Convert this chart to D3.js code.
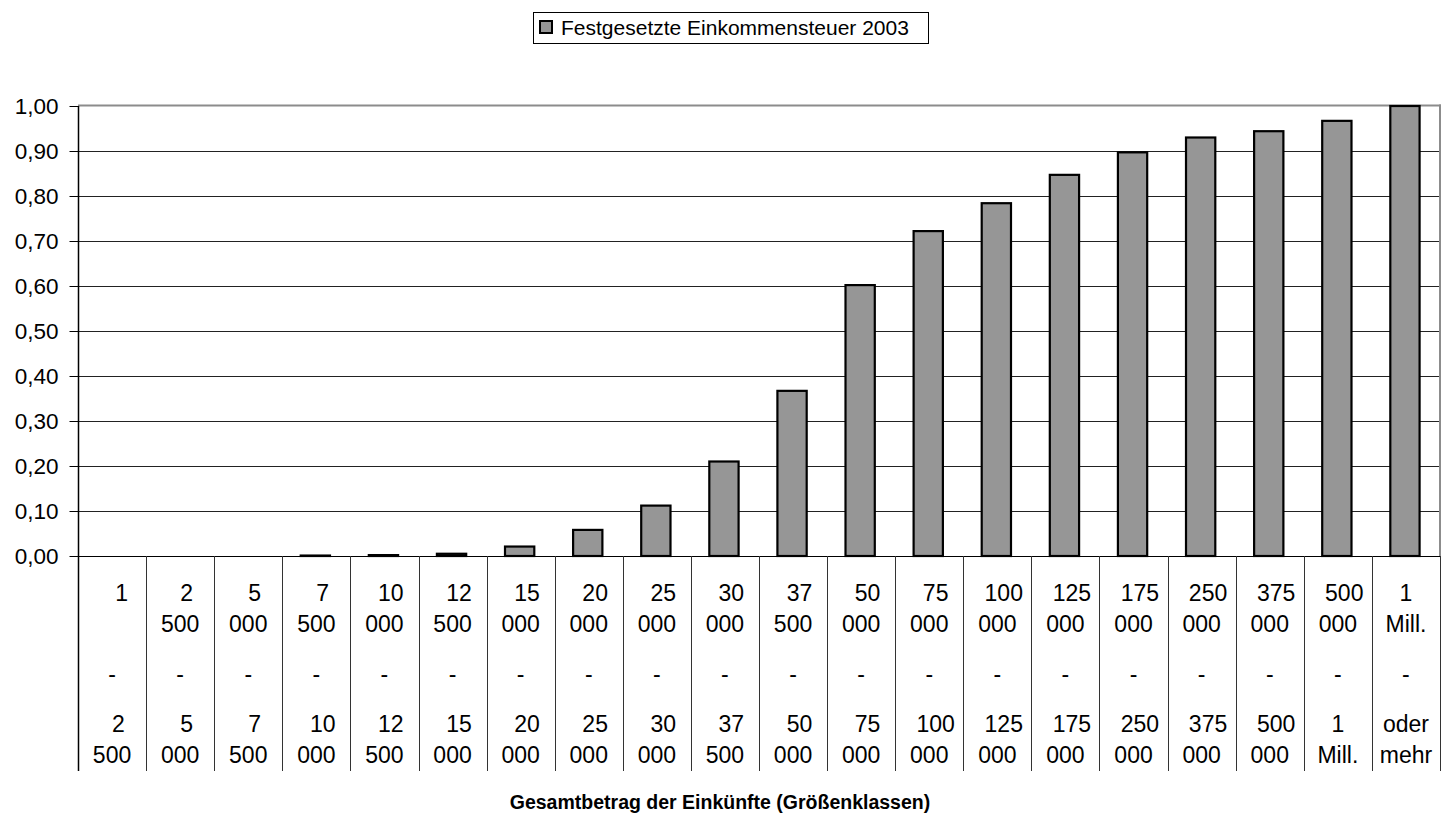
<!DOCTYPE html>
<html>
<head>
<meta charset="utf-8">
<script src="https://cdn.jsdelivr.net/npm/d3@7"></script>
<style>
  html, body { margin: 0; padding: 0; background: #fff; }
  svg { display: block; font-family: Arial, "Liberation Sans", sans-serif; }
  .cat text { white-space: pre; }
</style>
</head>
<body>
<svg id="chart" width="1450" height="817"></svg>
<script>
// ---- data ----
const seriesName = "Festgesetzte Einkommensteuer 2003";
const xTitle = "Gesamtbetrag der Einkünfte (Größenklassen)";
const classFrom = ["1", "2 500", "5 000", "7 500", "10 000", "12 500", "15 000", "20 000", "25 000", "30 000",
                   "37 500", "50 000", "75 000", "100 000", "125 000", "175 000", "250 000", "375 000", "500 000", "1 Mill."];
const classTo = ["2 500", "5 000", "7 500", "10 000", "12 500", "15 000", "20 000", "25 000", "30 000", "37 500",
                 "50 000", "75 000", "100 000", "125 000", "175 000", "250 000", "375 000", "500 000", "1 Mill.", "oder mehr"];
const values = [0, 0, 0, 0.001, 0.002, 0.005, 0.021, 0.058, 0.112, 0.210,
                0.367, 0.602, 0.722, 0.784, 0.847, 0.897, 0.930, 0.944, 0.967, 1.000];
const yTicks = [0, 0.1, 0.2, 0.3, 0.4, 0.5, 0.6, 0.7, 0.8, 0.9, 1.0];

// ---- layout ----
const svg = d3.select("#chart");
const pLeft = 78, pRight = 1440, pTop = 106, pBase = 556, catBottom = 771;
const catFont = 23, yFont = 22.5, legendFont = 21;

const x = d3.scaleBand().domain(d3.range(values.length)).range([pLeft, pRight]).paddingInner(0).paddingOuter(0);
const y = d3.scaleLinear().domain([0, 1]).range([pBase, pTop]);
const de = d3.formatLocale({decimal: ",", thousands: ".", grouping: [3], currency: ["", "€"]});
const fmt = de.format(".2f");

// gridlines
svg.append("g").selectAll("line").data(yTicks.filter(t => t > 0 && t < 1)).join("line")
  .attr("x1", pLeft).attr("x2", pRight)
  .attr("y1", d => Math.round(y(d)) + 0.5).attr("y2", d => Math.round(y(d)) + 0.5)
  .attr("stroke", "#222").attr("stroke-width", 1);

// plot border (top/right gray)
svg.append("line").attr("x1", pLeft).attr("x2", pRight + 1).attr("y1", pTop - 0.5).attr("y2", pTop - 0.5)
  .attr("stroke", "#8c8c8c").attr("stroke-width", 2);
svg.append("line").attr("x1", pRight).attr("x2", pRight).attr("y1", pTop - 1.5).attr("y2", pBase)
  .attr("stroke", "#8c8c8c").attr("stroke-width", 2);

// bars
const bw = x.bandwidth() * 0.43;
svg.append("g").selectAll("rect").data(values.map((v, i) => ({v, i})).filter(d => d.v > 0)).join("rect")
  .attr("x", d => x(d.i) + x.bandwidth() / 2 - bw / 2 - 1)
  .attr("width", bw)
  .attr("y", d => y(d.v))
  .attr("height", d => pBase - y(d.v))
  .attr("fill", "#969696")
  .attr("stroke", "#000")
  .attr("stroke-width", 2.2);

// baseline
svg.append("line").attr("x1", pLeft).attr("x2", pRight).attr("y1", pBase + 0.5).attr("y2", pBase + 0.5)
  .attr("stroke", "#000").attr("stroke-width", 1);

// y axis
const yAxis = d3.axisLeft(y).tickValues(yTicks).tickFormat(fmt).tickSize(9).tickPadding(11);
const ya = svg.append("g").attr("transform", `translate(${pLeft + 0.5},0)`).call(yAxis);
ya.select(".domain").remove();
ya.selectAll(".tick line").attr("stroke", "#000");
ya.selectAll(".tick text").attr("font-size", yFont).attr("font-family", "Arial, 'Liberation Sans', sans-serif").attr("fill", "#000");
svg.append("line").attr("x1", pLeft + 0.5).attr("x2", pLeft + 0.5).attr("y1", pTop).attr("y2", catBottom)
  .attr("stroke", "#000").attr("stroke-width", 1.5);

// category separators
svg.append("g").selectAll("line").data(d3.range(1, values.length + 1)).join("line")
  .attr("x1", d => Math.round(x(d - 1) + x.bandwidth()) + 0.5)
  .attr("x2", d => Math.round(x(d - 1) + x.bandwidth()) + 0.5)
  .attr("y1", pBase).attr("y2", catBottom)
  .attr("stroke", "#333").attr("stroke-width", 1);

// category labels (wrapped like the original: leading spaces before the first group of digits)
function splitLabel(s, isFirstCat) {
  const p = s.split(" ");
  const head = p[0], tail = p.length > 1 ? p.slice(1).join(" ") : "";
  const pad = tail === "Mill." || !/^\d+$/.test(head) ? "" : (isFirstCat ? "\u00a0\u00a0\u00a0" : "\u00a0\u00a0");
  return [pad + head, tail];
}
const lineY = [601, 632, 682, 732, 763];
const cat = svg.append("g").attr("class", "cat").attr("font-size", catFont).attr("fill", "#000").attr("text-anchor", "middle");
values.forEach((v, i) => {
  const cx = x(i) + x.bandwidth() / 2;
  const f = splitLabel(classFrom[i], i === 0);
  const t = splitLabel(classTo[i], false);
  const lines = [f[0], f[1], "-", t[0], t[1]];
  lines.forEach((s, k) => {
    if (!s) return;
    cat.append("text").attr("x", cx).attr("y", lineY[k]).text(s);
  });
});

// x title
svg.append("text").attr("x", 720).attr("y", 809).attr("text-anchor", "middle")
  .attr("font-size", 19.5).attr("font-weight", "bold").attr("fill", "#000").text(xTitle);

// legend
const lg = svg.append("g");
lg.append("rect").attr("x", 533.5).attr("y", 12.5).attr("width", 395).attr("height", 31)
  .attr("fill", "#fff").attr("stroke", "#000").attr("stroke-width", 1);
lg.append("rect").attr("x", 540).attr("y", 21).attr("width", 12).attr("height", 12)
  .attr("fill", "#969696").attr("stroke", "#000").attr("stroke-width", 2);
lg.append("text").attr("x", 561).attr("y", 35).attr("font-size", legendFont).attr("fill", "#000").text(seriesName);
</script>
</body>
</html>
